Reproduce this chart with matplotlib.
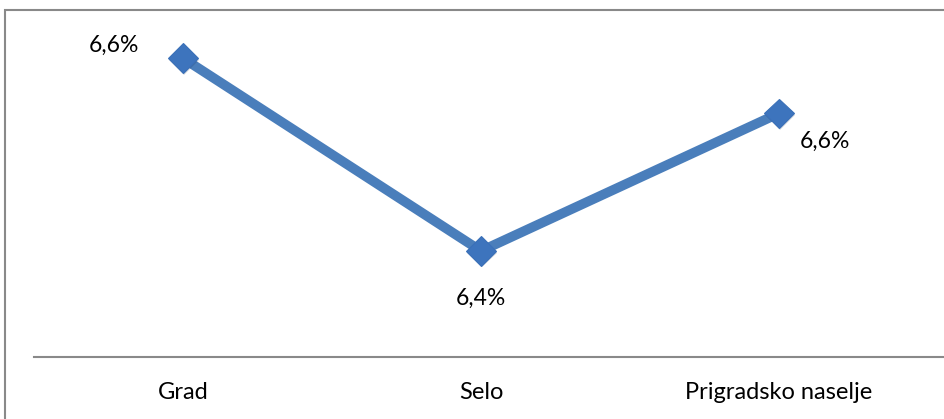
import matplotlib.pyplot as plt
from matplotlib.patches import Rectangle
import matplotlib.patheffects as pe

# Data
categories = ['Grad', 'Selo', 'Prigradsko naselje']
values = [6.64, 6.36, 6.56]
label_offsets = [(-50, 9), (0, -34), (33, -20)]  # points, relative to each marker

line_color = '#4a7ebb'
marker_color = '#3d74bd'
frame_color = '#898989'

plt.rcParams['font.family'] = ['Lato', 'DejaVu Sans']

fig = plt.figure(figsize=(9.45, 4.19), dpi=100)
ax = fig.add_axes([34 / 945, 62 / 419, 1 - 34 / 945, (357 - 10) / 419])

# Outer chart frame (runs off the right and bottom edges)
fig.patches.append(Rectangle((5 / 945, -0.2), 1.2, 0.2 + (419 - 10) / 419,
                             transform=fig.transFigure, fill=False,
                             edgecolor=frame_color, linewidth=1.5))

x = list(range(len(categories)))
ax.plot(x, values, color=line_color, linewidth=7, solid_capstyle='butt', zorder=2)
ax.plot(x, values, linestyle='none', marker='D', markersize=15,
        markerfacecolor=marker_color, markeredgecolor='#3a70b8', markeredgewidth=0.8,
        zorder=3,
        path_effects=[pe.SimplePatchShadow(offset=(0.8, -1.2), alpha=0.18), pe.Normal()])

for xi, v, off in zip(x, values, label_offsets):
    ax.annotate(f'{v:.1f}%'.replace('.', ','), (xi, v), xytext=off,
                textcoords='offset points', ha='center', va='center',
                fontsize=16.5, color='black')

ax.set_xlim(-0.5, (945 - 183) / 298)
ax.set_ylim(6.206, 6.710)
ax.set_xticks(x)
ax.set_xticklabels(categories, fontsize=17)
ax.tick_params(axis='x', length=0, pad=18)
ax.set_yticks([])
for side in ['top', 'right', 'left']:
    ax.spines[side].set_visible(False)
ax.spines['bottom'].set_color(frame_color)
ax.spines['bottom'].set_linewidth(1.5)

fig.savefig('out.png', dpi=100)
